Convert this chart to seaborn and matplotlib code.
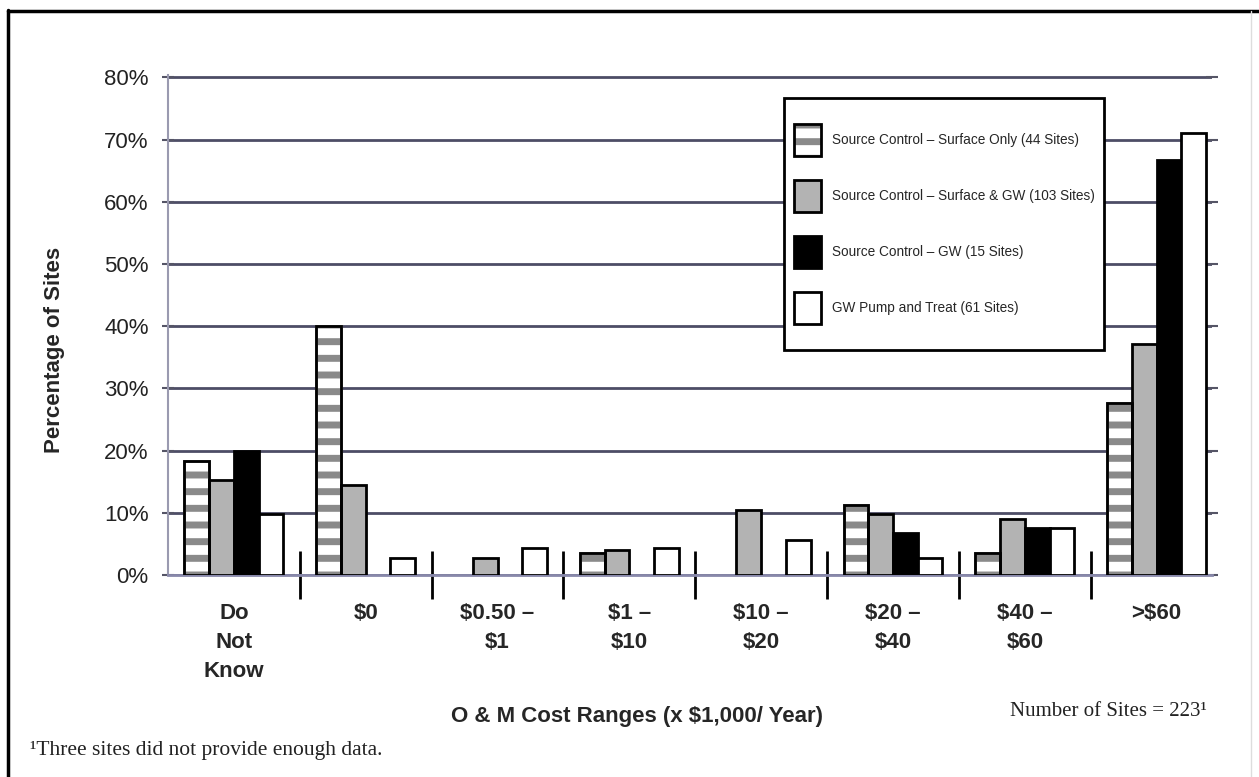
import numpy as np
import pandas as pd
import matplotlib
matplotlib.use("Agg")
import matplotlib.pyplot as plt
from matplotlib.patches import Patch, Rectangle
from matplotlib.lines import Line2D
import seaborn as sns

# O&M cost ranges (x $1,000 / year)
cost_ranges = ["Do\nNot\nKnow", "$0", "$0.50 –\n$1", "$1 –\n$10",
               "$10 –\n$20", "$20 –\n$40", "$40 –\n$60", ">$60"]
series_names = ["Source Control – Surface Only (44 Sites)",
                "Source Control – Surface & GW (103 Sites)",
                "Source Control – GW (15 Sites)",
                "GW Pump and Treat (61 Sites)"]

# percentage of sites
surface_only = [18.4, 40.0, 0.0, 3.5, 0.0, 11.2, 3.5, 27.6]
surface_gw = [15.2, 14.4, 2.7, 4.0, 10.5, 9.8, 9.0, 37.2]
gw_only = [20.0, 0.0, 0.0, 0.0, 0.0, 6.8, 7.5, 66.7]
pump_treat = [9.8, 2.8, 4.3, 4.3, 5.7, 2.8, 7.5, 71.0]

y_ticks = [0, 10, 20, 30, 40, 50, 60, 70, 80]

df = pd.DataFrame({
    "range": cost_ranges * 4,
    "series": np.repeat(series_names, len(cost_ranges)),
    "pct": surface_only + surface_gw + gw_only + pump_treat,
})

sns.set_theme(style="white")
plt.rcParams["font.family"] = ["Liberation Sans", "DejaVu Sans"]
plt.rcParams["text.parse_math"] = False
plt.rcParams["hatch.linewidth"] = 5

bar_colors = ["white", "#b3b3b3", "black", "white"]
stripe_col = "#8a8a8a"

fig = plt.figure(figsize=(12.59, 7.77), dpi=100)
ax = fig.add_axes([0.1334, 0.26, 0.8293, 0.6435])

sns.barplot(data=df, x="range", y="pct", hue="series", order=cost_ranges,
            hue_order=series_names, palette=bar_colors, saturation=1,
            width=0.75, gap=0, edgecolor="black", linewidth=2,
            legend=False, ax=ax, zorder=3)

# striped bars: gray hatch with a black outline drawn on top
for p in ax.containers[0]:
    p.set_edgecolor(stripe_col)
    p.set_hatch("-")
    if p.get_height() > 0:
        ax.add_patch(Rectangle(p.get_xy(), p.get_width(), p.get_height(),
                               fill=False, edgecolor="black", lw=2, zorder=3.5))
for cont in ax.containers:
    for p in cont:
        if p.get_height() == 0:
            p.set_visible(False)

ax.set_ylim(0, 80.4)
ax.set_xlim(-0.5, 7.42)
ax.set_yticks(y_ticks)
ax.set_yticklabels([f"{v}%" for v in y_ticks], fontsize=16, color="#222222")
ax.set_xticks(range(len(cost_ranges)))
ax.set_xticklabels(cost_ranges, fontsize=16, fontweight="bold",
                   linespacing=1.52, va="top")
ax.set_xticks(np.arange(0.5, 7, 1.0), minor=True)
ax.tick_params(axis="x", which="major", length=0, pad=20)
ax.tick_params(axis="x", which="minor", length=34, width=2,
               direction="inout", color="black", bottom=True)
ax.tick_params(axis="y", left=True, right=True, length=8, width=1.5,
               direction="inout", color="#555566", pad=10)

ax.yaxis.grid(True, color="#4d4d66", linewidth=2)
ax.set_axisbelow(True)
for side in ["top", "right"]:
    ax.spines[side].set_visible(False)
ax.spines["left"].set_color("#9a9ab0")
ax.spines["left"].set_linewidth(1.5)
ax.spines["bottom"].set_color("#8888aa")
ax.spines["bottom"].set_linewidth(2)

ax.set_ylabel("Percentage of Sites", fontsize=16, fontweight="bold")
ax.yaxis.set_label_coords(-0.0987, 0.45)
ax.set_xlabel("O & M Cost Ranges (x $1,000/ Year)", fontsize=16,
              fontweight="bold", va="center")
ax.xaxis.set_label_coords(0.449, -0.284)

# legend inside a boxed frame
ax.add_patch(Rectangle((0.59, 0.45), 0.307, 0.504, transform=ax.transAxes,
                       facecolor="white", edgecolor="black", lw=2, zorder=5))
handles = [
    (Patch(facecolor="white", edgecolor=stripe_col, hatch="-", lw=0),
     Patch(facecolor="none", edgecolor="black", lw=2)),
    Patch(facecolor=bar_colors[1], edgecolor="black", lw=2),
    Patch(facecolor=bar_colors[2], edgecolor="black", lw=2),
    Patch(facecolor=bar_colors[3], edgecolor="black", lw=2),
]
leg = ax.legend(handles, series_names, loc="center",
                bbox_to_anchor=(0.59 + 0.1535, 0.45 + 0.252),
                frameon=False, handlelength=2.0, handleheight=3.24,
                labelspacing=1.76, handletextpad=0.8,
                prop={"family": "Liberation Sans", "size": 9.8})
leg.set_zorder(6)

fig.text(1207 / 1259, 1 - 712 / 777, "Number of Sites = 223¹", ha="right",
         va="center", fontsize=15, family="Liberation Serif", color="#222222")
fig.text(30 / 1259, 1 - 750 / 777, "¹Three sites did not provide enough data.",
         ha="left", va="center", fontsize=15.5, family="Liberation Serif",
         color="#222222")

# scanned page frame
fig.add_artist(Line2D([8 / 1259, 8 / 1259], [0, 1 - 10 / 777],
                      transform=fig.transFigure, color="black", lw=2.5))
fig.add_artist(Line2D([8 / 1259, 1], [1 - 11 / 777, 1 - 11 / 777],
                      transform=fig.transFigure, color="black", lw=2.5))
fig.add_artist(Line2D([1251 / 1259, 1251 / 1259], [0, 1 - 11 / 777],
                      transform=fig.transFigure, color="#dddddd", lw=1))

fig.savefig("out.png", dpi=100)
